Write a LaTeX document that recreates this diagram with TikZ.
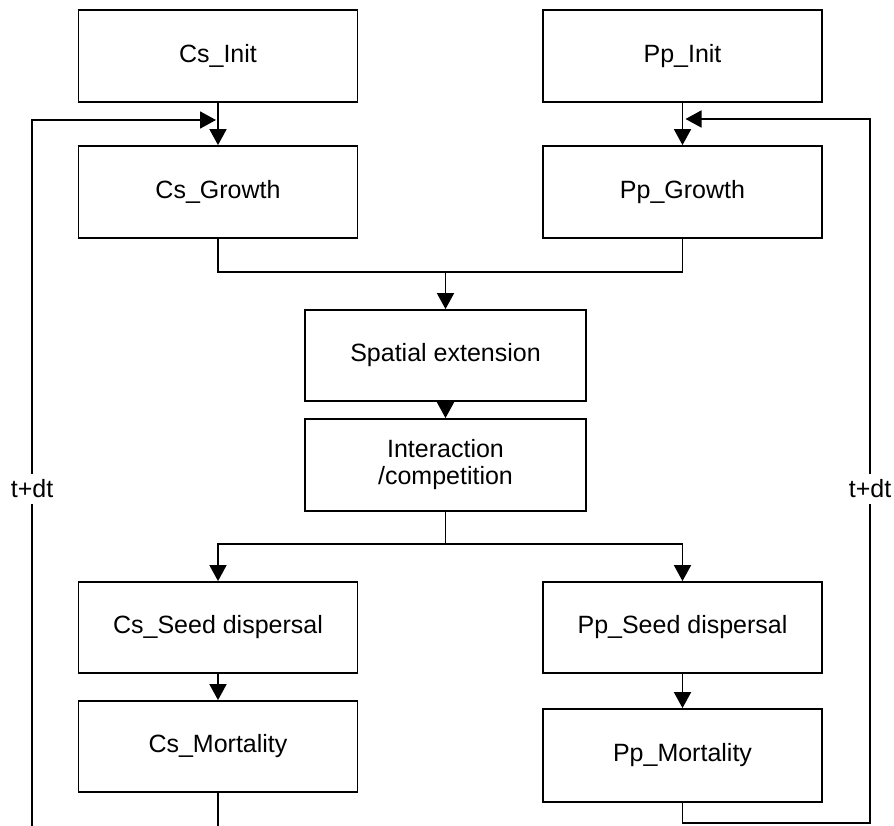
\documentclass[tikz,border=0pt]{standalone}
\usepackage{fontspec}
\setmainfont{Liberation Sans}
\usetikzlibrary{arrows.meta,calc}
\begin{document}
\begin{tikzpicture}[x=1pt,y=1pt,
  box/.style={draw=black, line width=1.8pt, rectangle, minimum width=279pt,
    minimum height=92pt, inner sep=0pt, align=center,
    font=\fontsize{25}{27}\selectfont},
  flow/.style={draw=black, line width=1.8pt, -{Triangle[length=16pt,width=17pt]}},
  link/.style={draw=black, line width=1.8pt},
  lbl/.style={font=\fontsize{25}{27}\selectfont, inner xsep=1pt, inner ysep=6pt, fill=white}]
\useasboundingbox (0,0) rectangle (894,-826);

% process boxes
\node[box] (csinit)   at (218,-56)    {Cs\_Init};
\node[box] (ppinit)   at (682.5,-56)  {Pp\_Init};
\node[box] (csgrowth) at (218,-192)   {Cs\_Growth};
\node[box] (ppgrowth) at (682.5,-192) {Pp\_Growth};
\node[box, minimum width=281pt, minimum height=91pt] (spatial)  at (445.5,-355.5) {Spatial extension};
\node[box, minimum width=281pt] (interact) at (445.5,-465) {Interaction\\/competition};
\node[box, minimum height=91pt] (csseed) at (218,-627.5)   {Cs\_Seed dispersal};
\node[box, minimum height=91pt] (ppseed) at (682.5,-627.5) {Pp\_Seed dispersal};
\node[box, minimum height=91pt] (csmort) at (218,-746.5)   {Cs\_Mortality};
\node[box, minimum height=93pt] (ppmort) at (682.5,-755.5) {Pp\_Mortality};

% junction points
\coordinate (mrg)   at (445.5,-272);
\coordinate (split) at (445.5,-544);
\coordinate (lbot)  at (32,-826);
\coordinate (ltop)  at (32,-120);
\coordinate (rbot)  at (870,-823);
\coordinate (rtop)  at (870,-119);

% initialisation into growth
\draw[flow] (csinit.south) -- (csgrowth.north);
\draw[flow] (ppinit.south) -- (ppgrowth.north);

% growth merges into spatial extension
\draw[link] (csgrowth.south) |- (mrg) -| (ppgrowth.south);
\draw[flow] (mrg) -- (spatial.north);
\draw[flow] (spatial.south) -- (interact.north);

% split to both species
\draw[link] (interact.south) -- (split);
\draw[flow] (split) -| (csseed.north);
\draw[flow] (split) -| (ppseed.north);
\draw[flow] (csseed.south) -- (csmort.north);
\draw[flow] (ppseed.south) -- (ppmort.north);

% time-step loops
\draw[link] (csmort.south) -- (csmort.south |- lbot);
\draw[flow, shorten >=2pt] (lbot) -- (ltop) -- (csgrowth.north |- ltop);
\draw[flow, shorten >=3pt] (ppmort.south) -- (ppmort.south |- rbot) -- (rbot) -- (rtop) -- (ppgrowth.north |- rtop);

% loop labels
\node[lbl] (tl) at (32,-489)  {t+dt};
\node[lbl] (tr) at (870,-489) {t+dt};
\end{tikzpicture}
\end{document}
